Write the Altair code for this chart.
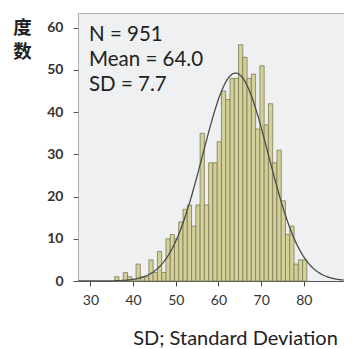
import altair as alt
import pandas as pd
import numpy as np

# Histogram counts (bin width 1, first bin starts at 35.7)
COUNTS = [1, 0, 2, 1, 0, 4, 1, 1, 5, 2, 7, 2,
          10, 11, 10, 14, 17, 18, 13, 18, 35,
          18, 28, 28, 33,
          45, 43, 48, 48, 56, 53, 48, 49,
          36, 51, 37, 42,
          28, 31, 19, 11, 13, 4, 5, 5]
BIN_START = 35.7
BIN_WIDTH = 1.0

X_TICKS = [30, 40, 50, 60, 70, 80, 90]
Y_TICKS = [0, 10, 20, 30, 40, 50, 60]

N_OBS = 951
MEAN = 64.0
SD = 7.7
STAT_LINES = ["N = 951", "Mean = 64.0", "SD = 7.7"]

X_DOMAIN = [27.1, 89.4]
Y_DOMAIN = [0, 63.5]

starts = [BIN_START + i * BIN_WIDTH for i in range(len(COUNTS))]
bars_df = pd.DataFrame({
    "start": starts,
    "end": [s + BIN_WIDTH for s in starts],
    "count": COUNTS,
})

# Fitted normal curve from the stated N, mean and SD
cx = np.arange(X_DOMAIN[0], X_DOMAIN[1] + 0.01, 0.2)
cy = N_OBS * BIN_WIDTH / (SD * np.sqrt(2 * np.pi)) * np.exp(-0.5 * ((cx - MEAN) / SD) ** 2)
curve_df = pd.DataFrame({"start": cx, "count": cy})

xscale = alt.Scale(domain=X_DOMAIN, nice=False, zero=False)
yscale = alt.Scale(domain=Y_DOMAIN, nice=False, zero=True)

xaxis = alt.Axis(
    title="SD; Standard Deviation", values=X_TICKS, grid=False,
    tickSize=5, tickColor="#444", domainColor="#555",
    labelFont="Lato", labelFontSize=14, labelColor="#333", labelPadding=7,
    titleFont="Lato", titleFontSize=20, titleFontWeight="normal", titleColor="#222",
    titleX=157, titleY=57, titleAlign="center", titleBaseline="middle",
)
yaxis = alt.Axis(
    title=["度", "数"], values=Y_TICKS, grid=False, domain=False,
    tickSize=5, tickColor="#555",
    labelFont="Lato", labelFontSize=14, labelFontWeight="bold", labelColor="#333",
    labelPadding=10,
    titleFont="Noto Sans CJK SC", titleFontSize=18.5, titleFontWeight="bold",
    titleColor="#222", titleAngle=0, titleX=-56, titleY=5,
    titleAlign="center", titleBaseline="top", titleLineHeight=24,
)

bars = alt.Chart(bars_df).mark_bar(
    fill="#d4d09a", stroke="#7f7c56", strokeWidth=0.8
).encode(
    x=alt.X("start:Q", scale=xscale, axis=xaxis),
    x2="end:Q",
    y=alt.Y("count:Q", scale=yscale, axis=yaxis),
    y2=alt.datum(0),
)

curve = alt.Chart(curve_df).mark_line(
    color="#4a4a4a", strokeWidth=1.3, clip=True
).encode(
    x=alt.X("start:Q", scale=xscale),
    y=alt.Y("count:Q", scale=yscale),
)

one = pd.DataFrame({"a": [0]})
text_y = [22, 47, 72]
texts = [
    alt.Chart(one).mark_text(
        align="left", baseline="middle", font="Lato", fontSize=20.5, color="#222"
    ).encode(x=alt.value(11), y=alt.value(ty), text=alt.value(t))
    for t, ty in zip(STAT_LINES, text_y)
]

chart = alt.layer(bars, curve, *texts).properties(
    width=266, height=268,
    padding={"left": 70, "top": 5, "right": 0, "bottom": 68},
    autosize=alt.AutoSizeParams(type="none"),
).configure_view(
    fill="#eef0f1", stroke="#b0b0b0", strokeWidth=1
)

chart.save("out.html", embed_options={"renderer": "svg", "actions": False})
